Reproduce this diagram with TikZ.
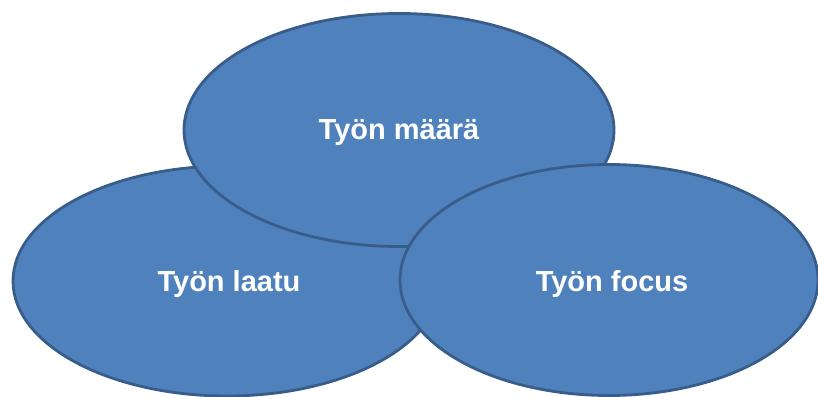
\documentclass[tikz,border=0pt]{standalone}
\usepackage{fontspec}
\setmainfont{Liberation Sans}
\usetikzlibrary{shapes.geometric}

\definecolor{bubblefill}{HTML}{4F81BD}
\definecolor{bubbleline}{HTML}{385D8A}

\begin{document}
\begin{tikzpicture}[%
    x=1pt,
    y=-1pt,
    bubble/.style={ellipse, draw=bubbleline, fill=bubblefill, line width=2.8pt,
        inner sep=0pt, text=white, font=\fontsize{29}{34}\selectfont\bfseries}
]
\useasboundingbox (0,0) rectangle (818,396);

% bottom left first, then top, then bottom right on top
\node[bubble, minimum width=428pt, minimum height=230pt] (laatu) at (227,281) {};
\node (laatutext) at (229,284) [text=white, font=\fontsize{29}{34}\selectfont\bfseries] {Työn laatu};

\node[bubble, minimum width=430pt, minimum height=233pt] (maara) at (399,130) {};
\node (maaratext) at (399,132) [text=white, font=\fontsize{29}{34}\selectfont\bfseries] {Työn määrä};

\node[bubble, minimum width=418pt, minimum height=231pt] (focus) at (609,280) {};
\node (focustext) at (612,284) [text=white, font=\fontsize{29}{34}\selectfont\bfseries] {Työn focus};

\end{tikzpicture}
\end{document}
